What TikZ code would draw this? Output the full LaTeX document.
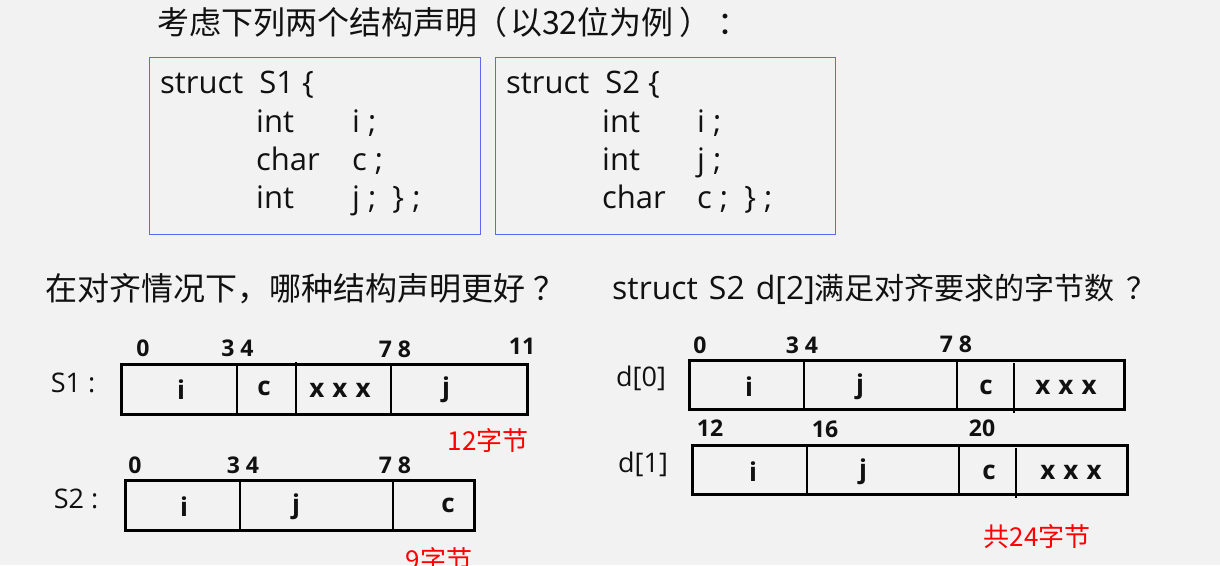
\documentclass[tikz,border=0pt]{standalone}
\usepackage{fontspec}
\setmainfont{Open Sans}
\newfontfamily\cjk{Noto Sans CJK SC}
\definecolor{bg}{HTML}{F2F2F2}
\definecolor{boxblue}{RGB}{95,105,240}
\definecolor{ink}{HTML}{111111}
\definecolor{redtxt}{HTML}{FF0000}
\newcommand{\xxx}{x\hspace{8pt}x\hspace{8pt}x}
\begin{document}
\begin{tikzpicture}[x=1pt,y=-1pt,
  head/.style={font=\cjk\fontsize{31}{36}\selectfont, text=ink, anchor=west, inner sep=0},
  code/.style={font=\fontsize{31}{37}\selectfont, text=ink, anchor=base west, inner sep=0},
  decl/.style={draw=boxblue, line width=1pt},
  num/.style={font=\bfseries\fontsize{23}{27}\selectfont, text=ink, inner sep=0},
  cell/.style={font=\bfseries\fontsize{26}{30}\selectfont, text=ink, inner sep=0},
  lab/.style={font=\fontsize{27}{32}\selectfont, text=ink, inner sep=0},
  redlab/.style={font=\cjk\fontsize{26}{30}\selectfont, text=redtxt, inner sep=0},
  mem/.style={draw=black, line width=3pt},
  divl/.style={draw=black, line width=2.5pt}]
\fill[bg] (0,0) rectangle (1220,565);
\useasboundingbox (0,0) rectangle (1220,565);

% title
\node[head, font=\cjk\fontsize{32}{37}\selectfont] (title) at (157,22) {考虑下列两个结构声明\hspace{-2pt}（\hspace{3pt}以32位为例\hspace{6pt}）\hspace{6pt}：};

% declaration boxes
\draw[decl] (149,57) rectangle (480,234);
\draw[decl] (495,57) rectangle (835,234);

\node[code] (a1) at (160,93) {struct\ \ S1 \{};
\node[code] (a2) at (256,132) {int};
\node[code] (a3) at (352,132) {i ;};
\node[code] (a4) at (256,170) {char};
\node[code] (a5) at (352,170) {c ;};
\node[code] (a6) at (256,208) {int};
\node[code] (a7) at (352,208) {j ;\ \ \} ;};

\node[code] (c1) at (506,93) {struct\ \ S2 \{};
\node[code] (c2) at (602,132) {int};
\node[code] (c3) at (697,132) {i ;};
\node[code] (c4) at (602,170) {int};
\node[code] (c5) at (697,170) {j ;};
\node[code] (c6) at (602,208) {char};
\node[code] (c7) at (697,208) {c ;\ \ \} ;};

% questions
\node[head, font=\cjk\fontsize{32}{37}\selectfont] (q1) at (45,289) {在对齐情况下，哪种结构声明更好\hspace{8pt}？};
\node[head, font=\fontsize{32}{37}\selectfont] (q2) at (612,289) {struct\hspace{11pt}S2\hspace{11pt}d[2]{\cjk\fontsize{30}{35}\selectfont 满足对齐要求的字节数\hspace{12pt}？}};

% ---- S1 layout ----
\node[lab] (s1l) at (73,383) {S1 :};
\draw[mem] (121,364) rectangle (527,414);
\draw[divl] (237,364) -- (237,414);
\draw[divl] (296,362) -- (296,414);
\draw[divl] (391,364) -- (391,414);
\node[num] (s1n0) at (143,348) {0};
\node[num] (s1n3) at (237.5,348) {3 4};
\node[num] (s1n7) at (395,349) {7 8};
\node[num] (s1n11) at (522,346) {11};
\node[cell] (s1i) at (181,390) {i};
\node[cell] (s1c) at (264,388) {c};
\node[cell] (s1x) at (340,390) {\xxx};
\node[cell] (s1j) at (446,390) {j};
\node[redlab] (s1b) at (488,441) {12字节};

% ---- S2 layout ----
\node[lab] (s2l) at (76,499) {S2 :};
\draw[mem] (125,480) rectangle (474,530);
\draw[divl] (240,480) -- (240,530);
\draw[divl] (393,480) -- (393,531);
\node[num] (s2n0) at (135,465) {0};
\node[num] (s2n3) at (243,465) {3 4};
\node[num] (s2n7) at (395,465) {7 8};
\node[cell] (s2i) at (184,507) {i};
\node[cell] (s2j) at (296,507) {j};
\node[cell] (s2c) at (448,505) {c};
\node[redlab] (s2b) at (439,560) {9字节};

% ---- d[0] ----
\node[lab] (d0l) at (641,378) {d[0]};
\draw[mem] (689,360) rectangle (1124,409);
\draw[divl] (804,360) -- (804,409);
\draw[divl] (957,360) -- (957,411);
\draw[divl] (1014,363) -- (1014,413);
\node[num] (d0n0) at (700,345) {0};
\node[num] (d0n3) at (802,345) {3 4};
\node[num] (d0n7) at (956,344) {7 8};
\node[cell] (d0i) at (749,387) {i};
\node[cell] (d0j) at (860,387) {j};
\node[cell] (d0c) at (986,387) {c};
\node[cell] (d0x) at (1066,387) {\xxx};

% ---- d[1] ----
\node[lab] (d1l) at (643,464) {d[1]};
\draw[mem] (692,445) rectangle (1127,494);
\draw[divl] (807,445) -- (807,494);
\draw[divl] (959,445) -- (959,496);
\draw[divl] (1016,448) -- (1016,498);
\node[num] (d1n12) at (710,428) {12};
\node[num] (d1n16) at (825,429) {16};
\node[num] (d1n20) at (982,428) {20};
\node[cell] (d1i) at (753,472) {i};
\node[cell] (d1j) at (863,472) {j};
\node[cell] (d1c) at (989,472) {c};
\node[cell] (d1x) at (1071,472) {\xxx};

\node[redlab] (db) at (1037,537) {共24字节};
\end{tikzpicture}
\end{document}
